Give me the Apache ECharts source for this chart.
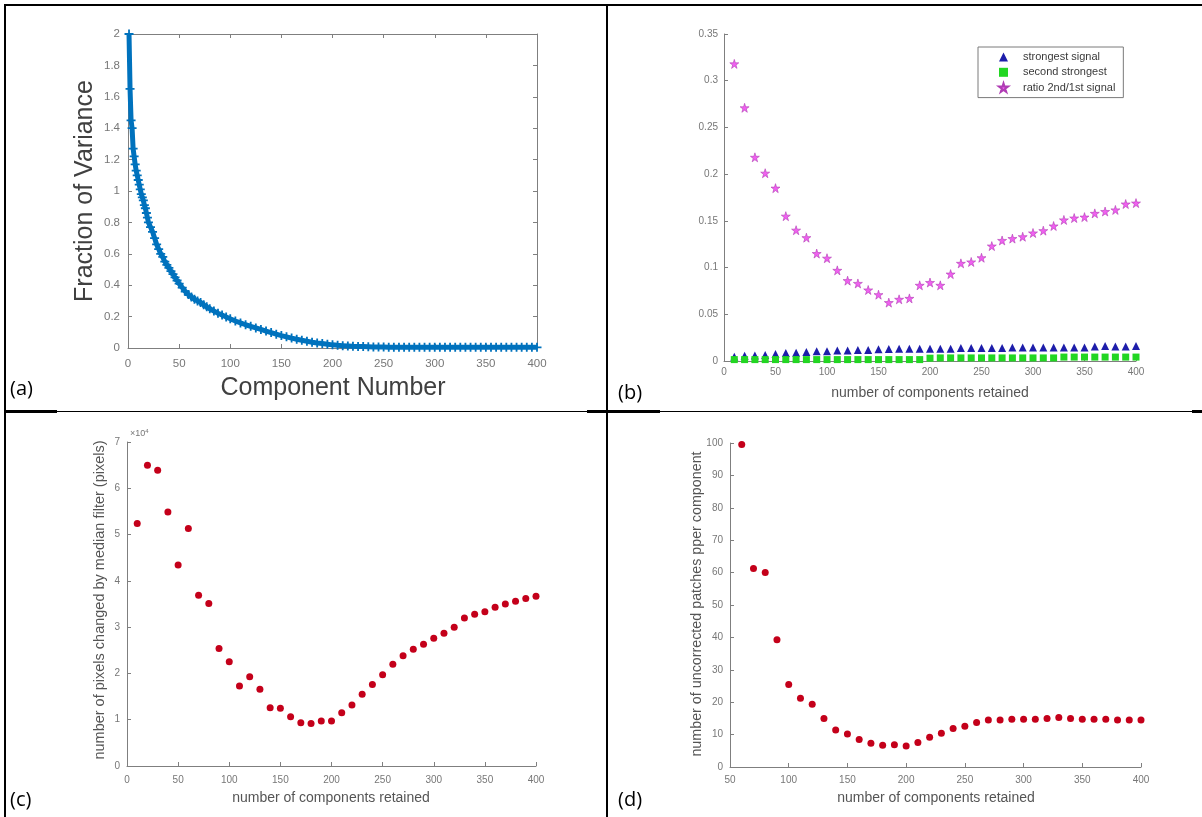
<!DOCTYPE html>
<html>
<head>
<meta charset="utf-8">
<script src="https://cdn.jsdelivr.net/npm/echarts@6/dist/echarts.min.js"></script>
<style>
  html, body { margin: 0; padding: 0; background: #fff; }
  #chart { width: 1202px; height: 817px; }
</style>
</head>
<body>
<div id="chart"></div>
<script>
// ---------- (a) fraction of variance per principal component ----------
const compA = [1, 2, 3, 4, 5, 6, 7, 8, 9, 10, 11, 12, 13, 14, 15, 16, 17, 18, 19, 20,
  22, 24, 26, 28, 30, 32, 34, 36, 38, 40, 42, 44, 46, 48, 50, 53, 56, 59, 62, 65, 68, 71, 74, 77, 80,
  84, 88, 92, 96, 100, 105, 110, 115, 120, 125, 130, 135, 140, 145, 150, 155, 160, 165, 170, 175,
  180, 185, 190, 195, 200, 205, 210, 215, 220, 225, 230, 235, 240, 245, 250, 255, 260, 265, 270,
  275, 280, 285, 290, 295, 300, 305, 310, 315, 320, 325, 330, 335, 340, 345, 350, 355, 360, 365,
  370, 375, 380, 385, 390, 395, 400];
const varianceA = [2.00, 1.65, 1.45, 1.40, 1.27, 1.22, 1.17, 1.13, 1.10, 1.07, 1.04, 1.01, 0.98, 0.96, 0.94, 0.91, 0.89, 0.86, 0.83, 0.80,
  0.77, 0.74, 0.70, 0.66, 0.63, 0.60, 0.58, 0.55, 0.53, 0.51, 0.49, 0.47, 0.45, 0.43, 0.41, 0.385, 0.36, 0.34, 0.325, 0.31, 0.30, 0.29, 0.275, 0.262, 0.25,
  0.235, 0.222, 0.21, 0.198, 0.186, 0.172, 0.16, 0.148, 0.138, 0.128, 0.118, 0.108, 0.098, 0.088, 0.079, 0.071, 0.063, 0.056, 0.049, 0.043,
  0.037, 0.032, 0.028, 0.024, 0.020, 0.017, 0.015, 0.013, 0.011, 0.010, 0.009, 0.008, 0.007, 0.006, 0.006, 0.005, 0.005, 0.005, 0.005,
  0.005, 0.005, 0.004, 0.004, 0.004, 0.004, 0.004, 0.004, 0.004, 0.004, 0.004, 0.004, 0.004, 0.004, 0.004, 0.004, 0.004, 0.004, 0.004,
  0.004, 0.004, 0.004, 0.004, 0.004, 0.004, 0.004];

// ---------- (b) signal strengths vs. number of retained components ----------
const compB = [10, 20, 30, 40, 50, 60, 70, 80, 90, 100, 110, 120, 130, 140, 150, 160, 170, 180, 190, 200,
  210, 220, 230, 240, 250, 260, 270, 280, 290, 300, 310, 320, 330, 340, 350, 360, 370, 380, 390, 400];
const strongestSignal = [0.0045, 0.0055, 0.006, 0.0065, 0.0075, 0.0085, 0.0088, 0.0095, 0.0105, 0.0105, 0.0112, 0.0112, 0.0118, 0.0118, 0.0125, 0.0128, 0.0132, 0.0132, 0.0132, 0.0132,
  0.0132, 0.013, 0.014, 0.014, 0.014, 0.014, 0.014, 0.0145, 0.0145, 0.0145, 0.0145, 0.0145, 0.0145, 0.0145, 0.0145, 0.0155, 0.016, 0.0155, 0.0155, 0.016];
const secondStrongest = [0.0015, 0.0015, 0.0015, 0.0015, 0.0015, 0.0015, 0.0015, 0.0015, 0.0015, 0.0015, 0.0015, 0.0015, 0.0015, 0.0015, 0.0015, 0.0015, 0.0015, 0.0015, 0.0015, 0.003,
  0.0033, 0.0033, 0.0033, 0.0033, 0.0033, 0.0033, 0.0033, 0.0033, 0.0033, 0.0033, 0.0033, 0.0033, 0.0042, 0.0042, 0.0042, 0.0042, 0.0042, 0.0042, 0.0042, 0.0042];
const ratioSignal = [0.318, 0.271, 0.218, 0.201, 0.185, 0.155, 0.140, 0.132, 0.115, 0.110, 0.097, 0.086, 0.083, 0.076, 0.071, 0.0625, 0.066, 0.067, 0.081, 0.084,
  0.081, 0.093, 0.1045, 0.106, 0.1105, 0.123, 0.129, 0.131, 0.133, 0.137, 0.1395, 0.1445, 0.151, 0.153, 0.154, 0.158, 0.160, 0.1617, 0.168, 0.169];

// ---------- (c) pixels changed by median filter ----------
const compC = [10, 20, 30, 40, 50, 60, 70, 80, 90, 100, 110, 120, 130, 140, 150, 160, 170, 180, 190, 200,
  210, 220, 230, 240, 250, 260, 270, 280, 290, 300, 310, 320, 330, 340, 350, 360, 370, 380, 390, 400];
const pixelsChanged = [52400, 65000, 63900, 54900, 43400, 51300, 36900, 35100, 25400, 22500, 17300, 19300, 16600, 12600, 12500, 10650, 9350, 9200, 9700, 9700,
  11500, 13200, 15500, 17600, 19700, 22000, 23800, 25200, 26300, 27600, 28700, 30000, 32000, 32800, 33300, 34300, 35000, 35600, 36200, 36700];

// ---------- (d) uncorrected patches per component ----------
const compD = [60, 70, 80, 90, 100, 110, 120, 130, 140, 150, 160, 170, 180, 190, 200,
  210, 220, 230, 240, 250, 260, 270, 280, 290, 300, 310, 320, 330, 340, 350, 360, 370, 380, 390, 400];
const patchesPerComponent = [99.5, 61.3, 60.0, 39.3, 25.5, 21.2, 19.4, 15.0, 11.4, 10.2, 8.5, 7.3, 6.7, 6.9, 6.5,
  7.6, 9.2, 10.4, 11.9, 12.6, 13.7, 14.5, 14.5, 14.7, 14.7, 14.7, 15.0, 15.3, 15.0, 14.7, 14.7, 14.7, 14.5, 14.5, 14.5];

// ---------- shared styling ----------
const SANS = "'Liberation Sans', Arial, Helvetica, sans-serif";
const TICK_COLOR = '#777777';
const AXIS_COLOR = '#7f7f7f';
const pairs = (xs, ys) => xs.map((x, i) => [x, ys[i]]);
const PLUS = 'path://M4,0H6V4H10V6H6V10H4V6H0V4H4Z';
const STAR = 'path://M50,0L61,35L98,35L68,57L79,91L50,70L21,91L32,57L2,35L39,35Z';

function xAxisOf(grid, min, max, margin, fontSize, extra) {
  return Object.assign({
    type: 'value', gridIndex: grid, min: min, max: max, interval: 50, position: 'bottom',
    axisLine: { show: true, onZero: false, lineStyle: { color: AXIS_COLOR, width: 1 } },
    axisTick: { show: true, inside: true, length: 4, lineStyle: { color: AXIS_COLOR } },
    axisLabel: { show: true, margin: margin, color: TICK_COLOR, fontSize: fontSize, fontFamily: SANS },
    splitLine: { show: false }, z: 3
  }, extra || {});
}
function yAxisOf(grid, min, max, interval, margin, fontSize, extra) {
  return Object.assign({
    type: 'value', gridIndex: grid, min: min, max: max, interval: interval, position: 'left',
    axisLine: { show: true, onZero: false, lineStyle: { color: AXIS_COLOR, width: 1 } },
    axisTick: { show: true, inside: true, length: 4, lineStyle: { color: AXIS_COLOR } },
    axisLabel: { show: true, margin: margin, color: TICK_COLOR, fontSize: fontSize, fontFamily: SANS },
    splitLine: { show: false }, z: 3
  }, extra || {});
}
const boxSide = { axisLabel: { show: false } };

function title(text, x, y, size, vertical, color) {
  return {
    type: 'text', x: x, y: y, rotation: vertical ? Math.PI / 2 : 0, z: 6,
    style: { text: text, align: 'center', verticalAlign: 'middle', fill: color || '#555555',
      font: size + 'px ' + SANS }
  };
}
function panelTag(text, x, y) {
  return {
    type: 'text', x: x, y: y, z: 6,
    style: { text: text, align: 'left', verticalAlign: 'middle', fill: '#000',
      font: "20px 'Open Sans', 'Liberation Sans', sans-serif" }
  };
}
function rule(x1, y1, x2, y2, w) {
  return { type: 'line', z: 6, shape: { x1: x1, y1: y1, x2: x2, y2: y2 },
    style: { stroke: '#000', lineWidth: w } };
}

const option = {
  animation: false,
  backgroundColor: '#fff',
  grid: [
    { left: 128, top: 34, width: 409, height: 314 },
    { left: 724, top: 34, width: 412, height: 327 },
    { left: 127, top: 442, width: 409, height: 324 },
    { left: 730, top: 443, width: 411, height: 324 }
  ],
  xAxis: [
    xAxisOf(0, 0, 400, 10, 11.5),
    xAxisOf(0, 0, 400, 10, 11.5, Object.assign({ position: 'top' }, boxSide)),
    xAxisOf(1, 0, 400, 6, 10),
    xAxisOf(2, 0, 400, 9, 10),
    xAxisOf(3, 50, 400, 8, 10)
  ],
  yAxis: [
    yAxisOf(0, 0, 2, 0.2, 8, 11.5),
    yAxisOf(0, 0, 2, 0.2, 8, 11.5, Object.assign({ position: 'right' }, boxSide)),
    yAxisOf(1, 0, 0.35, 0.05, 6, 10),
    yAxisOf(2, 0, 70000, 10000, 7, 10, { axisLabel: { show: true, margin: 7, color: TICK_COLOR, fontSize: 10, fontFamily: SANS,
      formatter: v => String(v / 10000) } }),
    yAxisOf(3, 0, 100, 10, 7, 10)
  ],
  legend: {
    show: true, orient: 'vertical', left: 978, top: 47,
    padding: [4, 8, 4, 20], itemGap: 3.3, itemWidth: 9, itemHeight: 9,
    borderColor: '#7a7a7a', borderWidth: 1, backgroundColor: '#fff', z: 7,
    textStyle: { fontSize: 11, lineHeight: 12, color: '#3a3a3a', fontFamily: SANS, padding: [0, 0, 0, 10] },
    data: ['strongest signal', 'second strongest', 'ratio 2nd/1st signal']
  },
  series: [
    {
      name: 'fraction of variance', type: 'line', xAxisIndex: 0, yAxisIndex: 0,
      data: pairs(compA, varianceA), symbol: PLUS, symbolSize: 9, showAllSymbol: true,
      lineStyle: { color: '#0072BD', width: 5 }, itemStyle: { color: '#0072BD' }, z: 4
    },
    {
      name: 'strongest signal', type: 'scatter', xAxisIndex: 2, yAxisIndex: 2,
      data: pairs(compB, strongestSignal), symbol: 'triangle', symbolSize: 8,
      itemStyle: { color: '#1d1daa', opacity: 1 }, z: 4
    },
    {
      name: 'second strongest', type: 'scatter', xAxisIndex: 2, yAxisIndex: 2,
      data: pairs(compB, secondStrongest), symbol: 'rect', symbolSize: 7,
      itemStyle: { color: '#22d622', opacity: 1 }, z: 4
    },
    {
      name: 'ratio 2nd/1st signal', type: 'scatter', xAxisIndex: 2, yAxisIndex: 2,
      data: pairs(compB, ratioSignal), symbol: STAR, symbolSize: 9,
      itemStyle: { color: '#f060f0', borderColor: '#b03cb4', borderWidth: 0.6, opacity: 1 }, z: 4
    },
    {
      name: 'pixels changed', type: 'scatter', xAxisIndex: 3, yAxisIndex: 3,
      data: pairs(compC, pixelsChanged), symbol: 'circle', symbolSize: 7,
      itemStyle: { color: '#c4001a', opacity: 1 }, z: 4
    },
    {
      name: 'uncorrected patches', type: 'scatter', xAxisIndex: 4, yAxisIndex: 4,
      data: pairs(compD, patchesPerComponent), symbol: 'circle', symbolSize: 7,
      itemStyle: { color: '#c4001a', opacity: 1 }, z: 4
    }
  ],
  graphic: [
    // table frame
    rule(4, 5, 1202, 5, 2),
    rule(5, 4, 5, 817, 2),
    rule(607, 4, 607, 817, 2),
    rule(4, 411.5, 1202, 411.5, 1.2),
    rule(4, 411.5, 57, 411.5, 3),
    rule(587, 411.5, 660, 411.5, 3),
    rule(1192, 411.5, 1202, 411.5, 3),
    // panel tags
    panelTag('(a)', 10, 389),
    panelTag('(b)', 618, 393),
    panelTag('(c)', 10, 800),
    panelTag('(d)', 618, 800),
    // axis titles
    title('Fraction of Variance', 85, 191, 25, true, '#404040'),
    title('Component Number', 333, 388, 25, false, '#404040'),
    title('number of components retained', 930, 393, 14),
    title('number of pixels changed by median filter (pixels)', 100, 600, 14.5, true),
    title('number of components retained', 331, 798, 14),
    title('number of uncorrected patches pper component', 697, 604, 14.3, true),
    title('number of components retained', 936, 798, 14),
    {
      type: 'text', x: 130, y: 434, z: 6,
      style: { text: '×10{s|4}', align: 'left', verticalAlign: 'middle', fill: TICK_COLOR,
        font: '9px ' + SANS, rich: { s: { fontSize: 6, verticalAlign: 'top', fill: TICK_COLOR, padding: [0, 0, 5, 0] } } }
    }
  ]
};

const chart = echarts.init(document.getElementById('chart'), null, { renderer: 'canvas' });
chart.setOption(option);
</script>
</body>
</html>
